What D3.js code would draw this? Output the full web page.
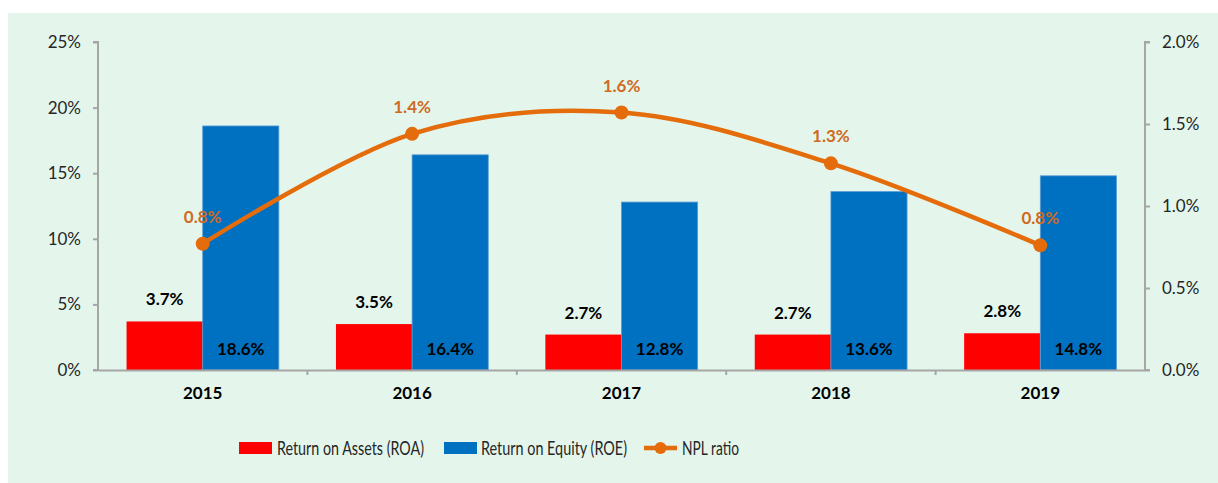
<!DOCTYPE html>
<html><head><meta charset="utf-8">
<script src="https://cdn.jsdelivr.net/npm/d3@7"></script>
<style>
html,body{margin:0;padding:0;background:#fff;}
svg{display:block;font-family:"Lato","Noto Sans",sans-serif;}
</style></head>
<body><svg id="c" width="1218" height="483"></svg>
<script>
const years = ["2015","2016","2017","2018","2019"];
const roa = [3.7, 3.5, 2.7, 2.7, 2.8];
const roe = [18.6, 16.4, 12.8, 13.6, 14.8];
const npl = [0.77, 1.44, 1.57, 1.26, 0.76];
const nplLabels = ["0.8%","1.4%","1.6%","1.3%","0.8%"];
const leftTicks = [0,5,10,15,20,25];
const rightTicks = [0,0.5,1.0,1.5,2.0];
const seriesNames = ["Return on Assets (ROA)","Return on Equity (ROE)","NPL ratio"];

const svg = d3.select("#c");
svg.append("rect").attr("x",8).attr("y",13).attr("width",1210).attr("height",470).attr("fill","#E4F6EC");

const L=98, R=1145, T=42, B=370;
const x = d3.scaleBand().domain(years).range([L,R]).paddingInner(0).paddingOuter(0);
const inner = d3.scaleBand().domain(["roa","roe"]).range([0,x.bandwidth()]).paddingOuter(0.375).paddingInner(0);
const yL = d3.scaleLinear().domain([0,25]).range([B,T]);
const yR = d3.scaleLinear().domain([0,2]).range([B,T]);
const axisCol = "#A6A6A6";

// bars
const g = svg.append("g");
years.forEach((yr,i)=>{
  const x0 = x(yr);
  g.append("rect").attr("x",x0+inner("roa")).attr("y",yL(roa[i])).attr("width",inner.bandwidth()).attr("height",B-yL(roa[i])).attr("fill","#FF0000");
  g.append("rect").attr("x",x0+inner("roe")).attr("y",yL(roe[i])).attr("width",inner.bandwidth()).attr("height",B-yL(roe[i])).attr("fill","#0070C0").attr("stroke","#5B9BD5").attr("stroke-width",0.8);
  g.append("text").attr("x",x0+inner("roa")+inner.bandwidth()/2).attr("y",yL(roa[i])-16).attr("text-anchor","middle")
    .attr("font-size",17).attr("font-weight","bold").attr("fill","#000").text(roa[i].toFixed(1)+"%");
  g.append("text").attr("x",x0+inner("roe")+inner.bandwidth()/2).attr("y",B-15).attr("text-anchor","middle")
    .attr("font-size",17).attr("font-weight","bold").attr("fill","#000").text(roe[i].toFixed(1)+"%");
});

// axes
const ax = svg.append("g").attr("transform",`translate(${L},0)`).call(d3.axisLeft(yL).tickValues(leftTicks).tickFormat(d=>d+"%").tickSize(5).tickPadding(12));
const ar = svg.append("g").attr("transform",`translate(${R},0)`).call(d3.axisRight(yR).tickValues(rightTicks).tickFormat(d=>d.toFixed(1)+"%").tickSize(5).tickPadding(12));
[ax,ar].forEach(a=>{
  a.select(".domain").attr("stroke",axisCol).attr("stroke-width",2).attr("d", a===ax ? `M-5,${T}H0V${B}H-5` : `M5,${T}H0V${B}H5`);
  a.selectAll(".tick line").attr("stroke",axisCol).attr("stroke-width",2);
  a.selectAll(".tick text").attr("font-size",17).attr("fill","#262626").attr("font-family","Lato, sans-serif");
});
const xa = svg.append("g").attr("transform",`translate(0,${B})`).call(d3.axisBottom(x).tickSize(0).tickPadding(17));
xa.select(".domain").attr("stroke",axisCol).attr("stroke-width",2);
xa.selectAll(".tick text").attr("font-size",17).attr("font-weight","bold").attr("fill","#000").attr("font-family","Lato, sans-serif");
years.forEach((yr,i)=>{ if(i>0) xa.append("line").attr("x1",x(yr)).attr("x2",x(yr)).attr("y1",0).attr("y2",5).attr("stroke",axisCol).attr("stroke-width",2); });

// line
const orange="#E46C0A";
const pts = years.map((yr,i)=>[x(yr)+x.bandwidth()/2, yR(npl[i])]);
svg.append("path").attr("d", d3.line().curve(d3.curveCatmullRom.alpha(0))(pts)).attr("fill","none").attr("stroke",orange).attr("stroke-width",4.5).attr("stroke-linecap","round");
pts.forEach((p,i)=>{
  svg.append("circle").attr("cx",p[0]).attr("cy",p[1]).attr("r",7).attr("fill",orange);
  svg.append("text").attr("x",p[0]).attr("y",p[1]-21).attr("text-anchor","middle").attr("font-size",17).attr("font-weight","bold").attr("fill","#CF6A1E").text(nplLabels[i]);
});

// legend
const lg = svg.append("g");
const ly = 448;
const legW = [147, 146, 57];
lg.append("rect").attr("x",239).attr("y",ly-6).attr("width",33).attr("height",12).attr("fill","#FF0000");
lg.append("text").attr("x",277).attr("y",ly+7).attr("font-size",19.5).attr("fill","#262626").attr("textLength",legW[0]).attr("lengthAdjust","spacingAndGlyphs").text(seriesNames[0]);
lg.append("rect").attr("x",444).attr("y",ly-6).attr("width",33).attr("height",12).attr("fill","#0070C0");
lg.append("text").attr("x",481).attr("y",ly+7).attr("font-size",19.5).attr("fill","#262626").attr("textLength",legW[1]).attr("lengthAdjust","spacingAndGlyphs").text(seriesNames[1]);
lg.append("line").attr("x1",644).attr("x2",677).attr("y1",ly).attr("y2",ly).attr("stroke",orange).attr("stroke-width",4.5);
lg.append("circle").attr("cx",660.5).attr("cy",ly).attr("r",6).attr("fill",orange);
lg.append("text").attr("x",682).attr("y",ly+7).attr("font-size",19.5).attr("fill","#262626").attr("textLength",legW[2]).attr("lengthAdjust","spacingAndGlyphs").text(seriesNames[2]);
</script></body></html>
